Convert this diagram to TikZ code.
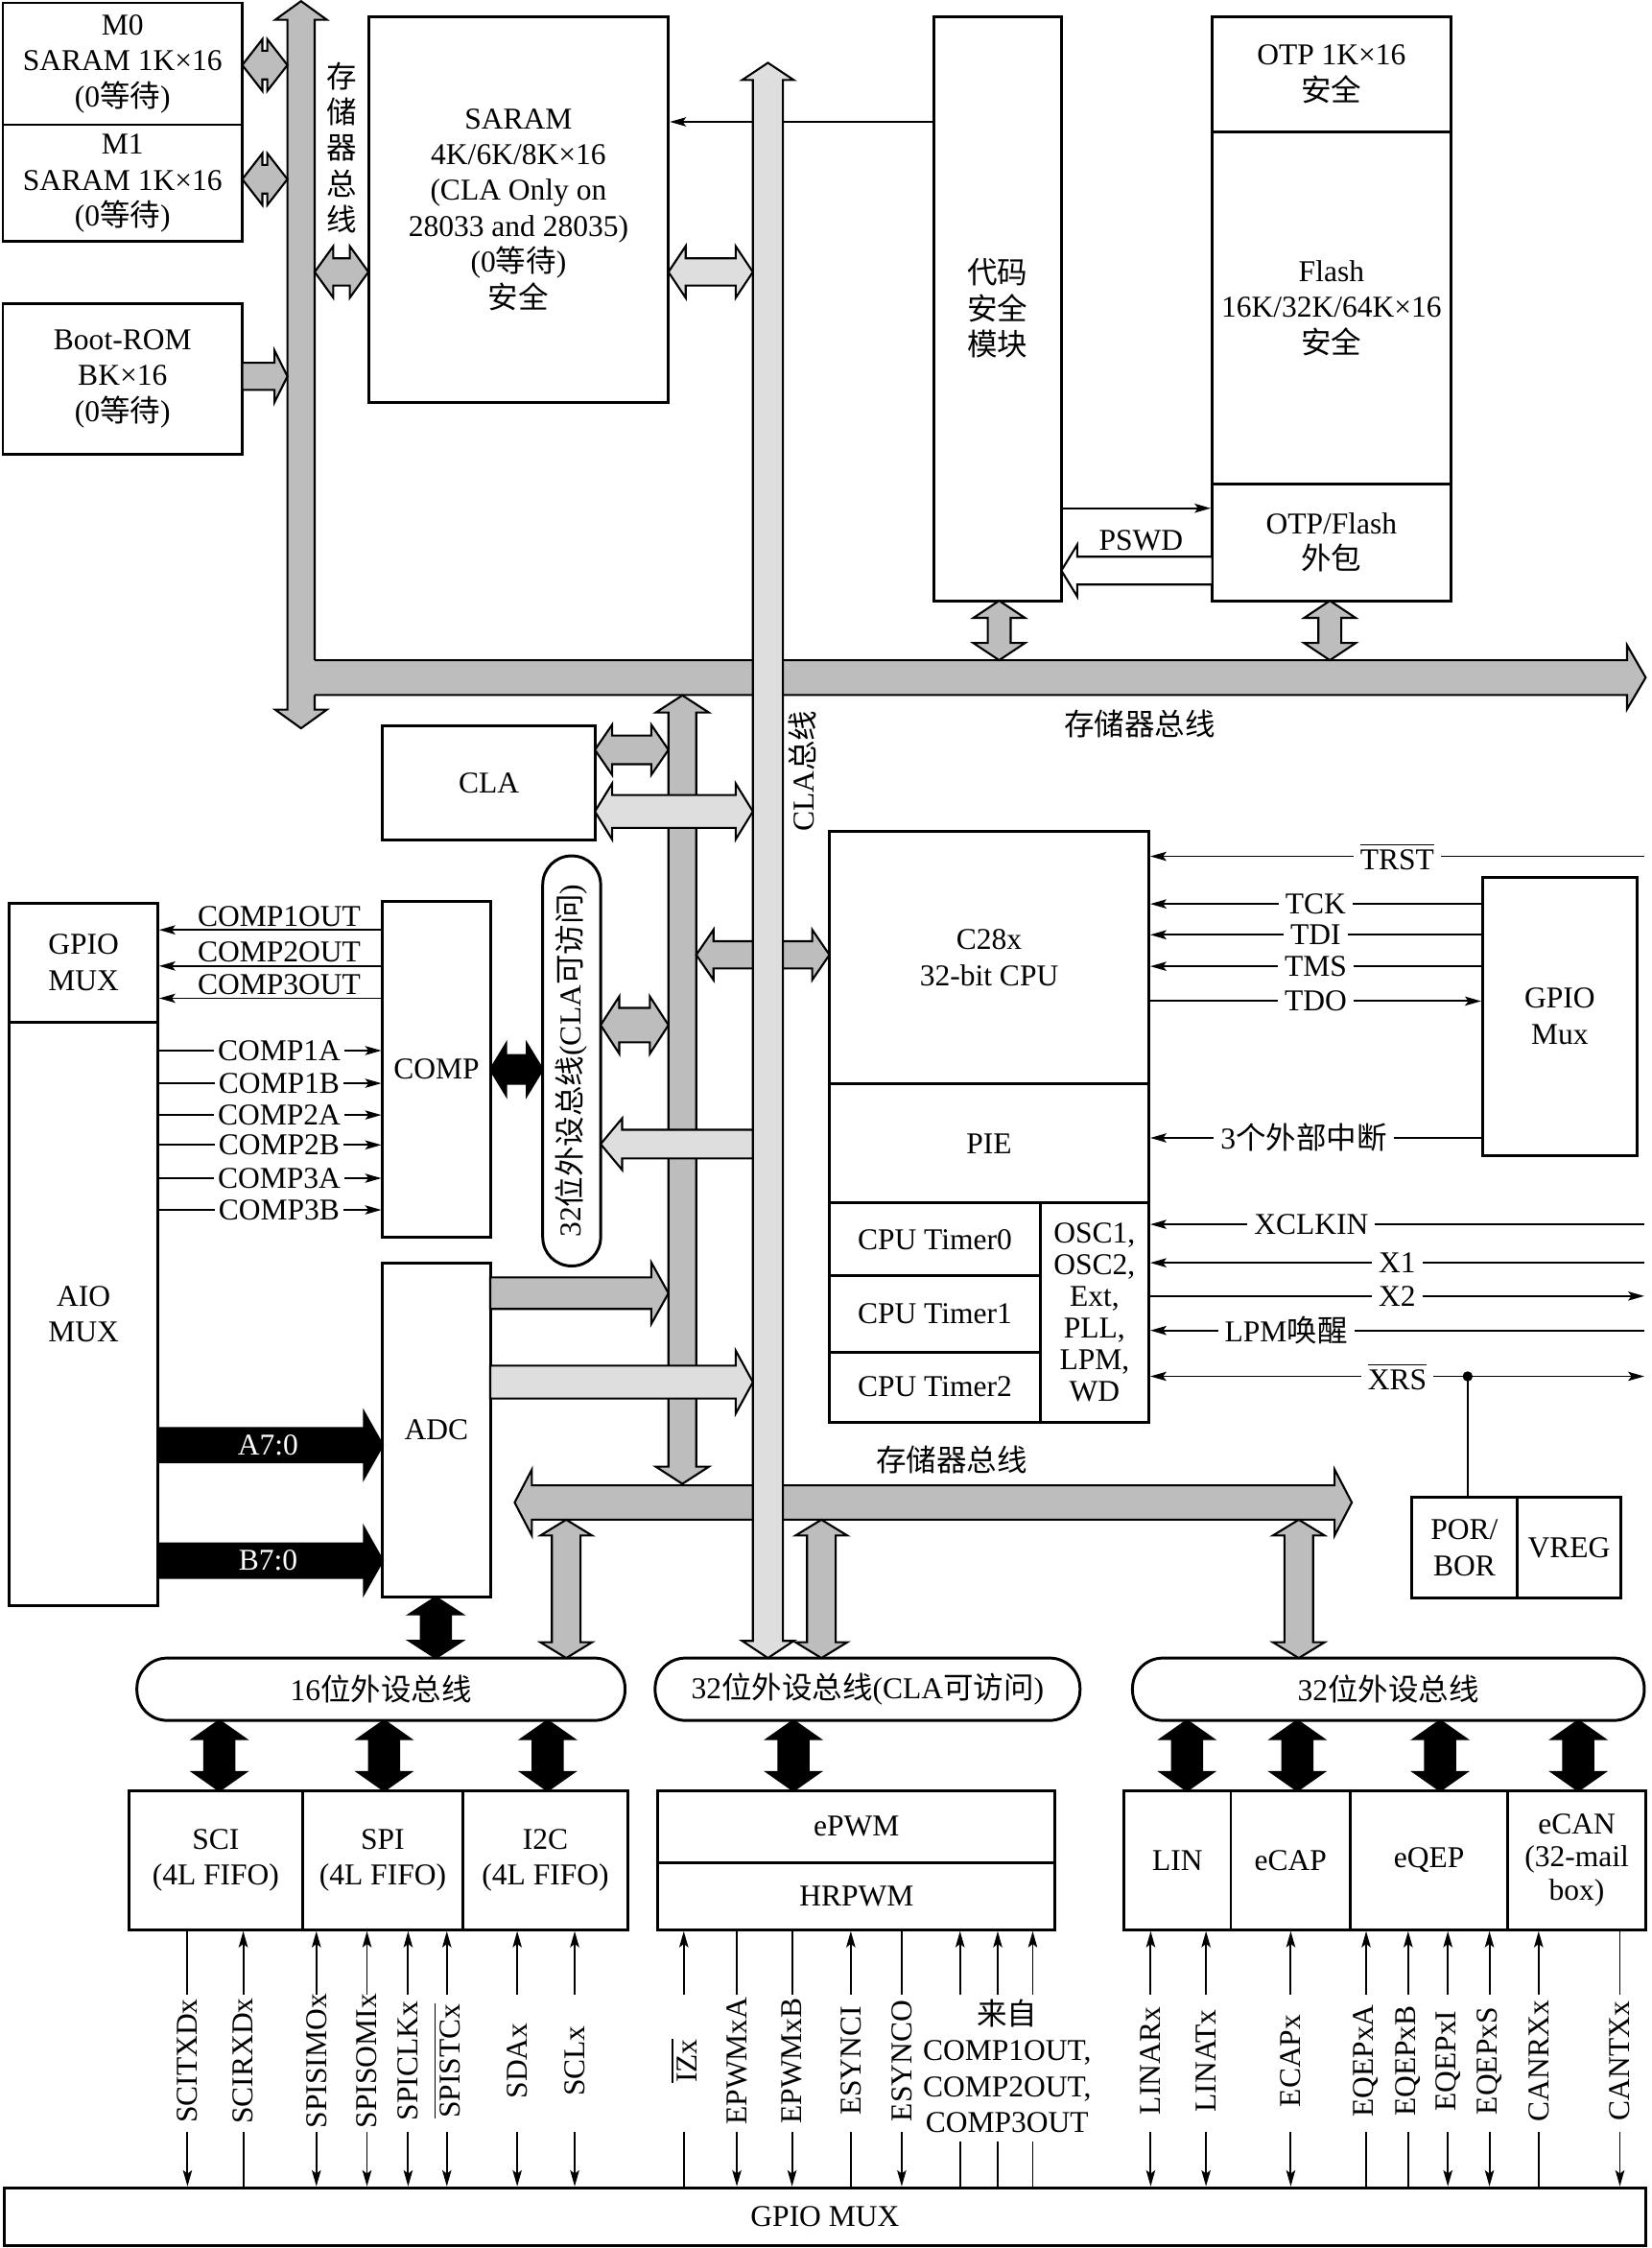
\documentclass[tikz,border=0pt]{standalone}
\usepackage{fontspec}
\setmainfont{Liberation Serif}
\newfontfamily\zhf{Noto Sans CJK SC}
\usetikzlibrary{arrows.meta,fit}
\definecolor{mg}{RGB}{189,189,189}
\definecolor{lg}{RGB}{222,222,222}
\newcommand\zh[1]{{\zhf #1}}
\newcommand\ovl[1]{$\overline{\hbox{#1}}$}
% box with centred text: text options, name, x1, y1, x2, y2, text
\newcommand\bx[7][]{\node[box,fit={(#3,#4)(#5,#6)}] (#2) {};
 \node[align=center,#1] (#2-t) at (#2.center) {#7};}
% pill with centred text: name, x1, y1, x2, y2, text
\newcommand\pl[6]{\node[pill,fit={(#2,#3)(#4,#5)}] (#1) {};
 \node (#1-t) at (#1.center) {#6};}
% double horizontal block arrow: style, x1, x2, y, shaft half, head half, head length
\newcommand\hdbl[7]{\draw[#1] (#2,#4) -- ({#2+#7},{#4-#6}) -- ({#2+#7},{#4-#5}) -- ({#3-#7},{#4-#5}) -- ({#3-#7},{#4-#6}) -- (#3,#4) -- ({#3-#7},{#4+#6}) -- ({#3-#7},{#4+#5}) -- ({#2+#7},{#4+#5}) -- ({#2+#7},{#4+#6}) -- cycle;}
% double vertical block arrow: style, y1, y2, x, shaft half, head half, head length
\newcommand\vdbl[7]{\draw[#1] (#4,#2) -- ({#4-#6},{#2+#7}) -- ({#4-#5},{#2+#7}) -- ({#4-#5},{#3-#7}) -- ({#4-#6},{#3-#7}) -- (#4,#3) -- ({#4+#6},{#3-#7}) -- ({#4+#5},{#3-#7}) -- ({#4+#5},{#2+#7}) -- ({#4+#6},{#2+#7}) -- cycle;}
% single horizontal block arrow: style, base x, tip x, y, shaft half, head half, signed head length
\newcommand\hone[7]{\draw[#1] (#2,{#4-#5}) -- ({#3-(#7)},{#4-#5}) -- ({#3-(#7)},{#4-#6}) -- (#3,#4) -- ({#3-(#7)},{#4+#6}) -- ({#3-(#7)},{#4+#5}) -- (#2,{#4+#5}) -- cycle;}
% pin line: name, x, box, label, upper arrow, lower arrow
\newcommand\pin[6]{\draw[sig,#5] (#2,1391) -- (#2,0 |- #3.south);
 \draw[sig,#6] (#2,1487) -- (#2,0 |- gpio.north);
 \node[rotate=90] (#1) at (#2,1437.5) {#4};}
\newcommand\pinx[4]{\draw[sig,#3] (#1,1391) -- (#1,0 |- #2.south);
 \draw[sig,#4] (#1,1494) -- (#1,0 |- gpio.north);}
\begin{document}
\begin{tikzpicture}[x=0.015cm,y=-0.015cm,
 font=\fontsize{9}{10.7}\selectfont,
 >={Stealth[length=4.8pt,width=2.7pt,inset=1pt]},
 box/.style={draw,line width=0.85pt,inner sep=0pt},
 pill/.style={box,rounded corners=9pt},
 sig/.style={line width=0.55pt},
 barM/.style={fill=mg,draw=black,line width=0.6pt},
 barL/.style={fill=lg,draw=black,line width=0.6pt},
 barK/.style={fill=black,draw=black,line width=0.6pt},
 barW/.style={fill=white,draw=black,line width=0.6pt},
 lbl/.style={fill=white,inner xsep=2pt,inner ysep=0.5pt}]
\useasboundingbox (0,0) rectangle (1152,1568);

% ---------- boxes ----------
\bx{m0}{2}{2}{169}{87}{M0\\SARAM 1K×16\\(0\zh{等待})}
\bx{m1}{2}{87}{169}{168.6}{M1\\SARAM 1K×16\\(0\zh{等待})}
\bx{boot}{2}{211.5}{169}{317}{Boot-ROM\\BK×16\\(0\zh{等待})}
\bx{saram}{257}{11.4}{466.3}{281}{SARAM\\4K/6K/8K×16\\(CLA Only on\\28033 and 28035)\\(0\zh{等待})\\\zh{安全}}
\bx{csm}{651.4}{11.4}{740.4}{419}{\zh{代码}\\\zh{安全}\\\zh{模块}}
\bx{otp}{845.6}{11.4}{1012}{92}{OTP 1K×16\\\zh{安全}}
\bx{flash}{845.6}{92}{1012}{337.5}{Flash\\16K/32K/64K×16\\\zh{安全}}
\bx{wrap}{845.6}{337.5}{1012}{419}{OTP/Flash\\\zh{外包}}
\bx{cla}{267}{506.5}{415}{586}{CLA}
\bx{gml}{6.6}{630}{110}{713}{GPIO\\MUX}
\bx{aio}{6.6}{713}{110}{1120}{AIO\\MUX}
\bx{comp}{267}{628.5}{342}{863}{COMP}
\bx{adc}{267}{880.8}{342}{1114}{ADC}
\node[pill,rounded corners=8.5pt,fit={(378.6,597)(419,883)}] (pillv) {};
\node[rotate=90] (pillvt) at (pillv.center) {32\zh{位外设总线}(CLA\zh{可访问})};
\bx{cpu}{578.6}{580}{801.4}{756}{C28x\\32-bit CPU}
\bx{pie}{578.6}{756}{801.4}{839}{PIE}
\bx{t0}{578.6}{839}{725.6}{890}{CPU Timer0}
\bx{t1}{578.6}{890}{725.6}{943}{CPU Timer1}
\bx{t2}{578.6}{943}{725.6}{992}{CPU Timer2}
\bx[font=\fontsize{9}{9.4}\selectfont]{osc}{725.6}{839}{801.4}{992}{OSC1,\\OSC2,\\Ext,\\PLL,\\LPM,\\WD}
\bx{gmr}{1034.2}{612}{1142}{806}{GPIO\\Mux}
\bx{por}{984.6}{1044.4}{1058.5}{1114.5}{POR/\\BOR}
\bx{vreg}{1058.5}{1044.4}{1130.4}{1114.5}{VREG}
\pl{p16}{95.5}{1156.5}{436}{1200}{16\zh{位外设总线}}
\pl{p32c}{457}{1156.5}{753.4}{1200}{32\zh{位外设总线}(CLA\zh{可访问})}
\pl{p32}{790}{1156.5}{1147}{1200}{32\zh{位外设总线}}
\bx{sci}{90}{1249}{211}{1346}{SCI\\(4L FIFO)}
\bx{spi}{211}{1249}{323}{1346}{SPI\\(4L FIFO)}
\bx{i2c}{323}{1249}{438}{1346}{I2C\\(4L FIFO)}
\bx{epwm}{459}{1249}{736}{1299}{ePWM}
\bx{hrpwm}{459}{1299}{736}{1346}{HRPWM}
\bx{lin}{784}{1249}{858.6}{1346}{LIN}
\bx{ecap}{858.6}{1249}{942}{1346}{eCAP}
\bx{eqep}{942}{1249}{1051.8}{1346}{eQEP}
\bx[font=\fontsize{9}{9.8}\selectfont]{ecan}{1051.8}{1249}{1148}{1346}{eCAN\\(32-mail\\box)}
\bx{gpio}{3}{1526}{1148}{1566}{GPIO MUX}

% ---------- thin line behind the CLA bus ----------
\draw[sig,->] (csm.west |- 0,85) -- (saram.east |- 0,85);

% ---------- memory buses ----------
\vdbl{barM}{0.8}{508}{210}{9.5}{18}{13}
\fill[mg] (205,460.5) -- (1135,460.5) -- (1135,450) -- (1148,472.6) -- (1135,494.6) -- (1135,484.8) -- (205,484.8) -- cycle;
\draw[line width=0.6pt] (219.5,460.5) -- (1135,460.5) -- (1135,450) -- (1148,472.6) -- (1135,494.6) -- (1135,484.8) -- (219.5,484.8);
\vdbl{barM}{485}{1035}{476}{9.7}{18.5}{12}

% medium gray arrows
\hdbl{barM}{169}{200.5}{45.4}{10}{18}{14}
\hdbl{barM}{169}{200.5}{125}{10}{18}{14}
\hone{barM}{169}{200.5}{262.5}{9.5}{18}{9}
\hdbl{barM}{219.5}{257}{189.7}{9.5}{18}{13}
\vdbl{barM}{419}{460.5}{697}{8}{18}{12}
\vdbl{barM}{419}{460.5}{927.7}{8}{18}{12}
\hdbl{barM}{415}{466.3}{523}{10}{17.5}{12}
\hdbl{barM}{485.7}{578.6}{666}{9.5}{17.5}{12}
\hdbl{barM}{419}{466.3}{715}{12}{20}{13}
\hone{barM}{342}{466.3}{902}{11}{21.5}{12}
\hdbl{barM}{359}{943}{1048}{12}{23}{12}
\vdbl{barM}{1060}{1156.5}{395}{10}{18}{11}
\vdbl{barM}{1060}{1156.5}{573}{10}{18}{11}
\vdbl{barM}{1060}{1156.5}{906}{10}{18}{11}

% light gray (CLA) bus and arrows
\vdbl{barL}{43.8}{1156.5}{535.7}{10.5}{18}{12}
\hdbl{barL}{466.3}{525.2}{189.7}{9.5}{18}{12}
\hdbl{barL}{415}{525.2}{566}{11.5}{19.5}{12}
\hone{barL}{525.2}{419}{798}{10}{18}{-15}
\hone{barL}{342}{525.2}{964}{11.5}{22}{12}

% black arrows
\hdbl{barK}{342}{378.6}{746}{10}{18}{11}
\hone{barK}{110}{267}{1008}{12}{23}{13}
\hone{barK}{110}{267}{1088.5}{12}{23}{13}
\vdbl{barK}{1114}{1156.5}{304}{10.5}{18.5}{12}
\foreach \xx in {153,268,382,553.5,828,905,1004.6,1101}{\vdbl{barK}{1200}{1249}{\xx}{10.5}{18.5}{13}}
\node[text=white] (la7) at (187,1008) {A7:0};
\node[text=white] (lb7) at (187,1088.5) {B7:0};

% PSWD hollow arrow
\hone{barW}{845.6}{740.4}{398}{9.7}{18}{-11}
\node (pswd) at (796,377) {PSWD};
\draw[sig,->] (csm.east |- 0,354.5) -- (wrap.west |- 0,354.5);

% bus labels
\node[align=center] (lmb1) at (238.5,103) {\zh{存}\\\zh{储}\\\zh{器}\\\zh{总}\\\zh{线}};
\node[rotate=90] (lclab) at (559.5,538) {CLA\zh{总线}};
\node (lmb2) at (795,505) {\zh{存储器总线}};
\node (lmb3) at (664,1018) {\zh{存储器总线}};

% COMP signals
\foreach \yy/\lab in {648.6/COMP1OUT, 673.8/COMP2OUT, 696.3/COMP3OUT}
 {\draw[sig,->] (comp.west |- 0,\yy) -- node[above,inner sep=0.8pt,pos=0.46]{\lab} (gml.east |- 0,\yy);}
\foreach \yy/\lab in {732.8/COMP1A, 755.6/COMP1B, 777.7/COMP2A, 798.6/COMP2B, 821.8/COMP3A, 843.9/COMP3B}
 {\draw[sig,->] (aio.east |- 0,\yy) -- node[fill=white,inner xsep=1.2pt,inner ysep=0pt,pos=0.54]{\lab} (comp.west |- 0,\yy);}

% JTAG / clock / reset signals
\coordinate (RE) at (1147,600);
\draw[sig,->] (RE |- 0,597.3) -- node[lbl]{\ovl{TRST}} (cpu.east |- 0,597.3);
\draw[sig,->] (gmr.west |- 0,630.5) -- node[lbl]{TCK} (cpu.east |- 0,630.5);
\draw[sig,->] (gmr.west |- 0,652) -- node[lbl]{TDI} (cpu.east |- 0,652);
\draw[sig,->] (gmr.west |- 0,674) -- node[lbl]{TMS} (cpu.east |- 0,674);
\draw[sig,->] (cpu.east |- 0,698.3) -- node[lbl]{TDO} (gmr.west |- 0,698.3);
\draw[sig,->] (gmr.west |- 0,793.7) -- node[lbl,pos=0.536]{3\zh{个外部中断}} (pie.east |- 0,793.7);
\draw[sig,->] (RE |- 0,854) -- node[lbl,pos=0.674]{XCLKIN} (osc.east |- 0,854);
\draw[sig,->] (RE |- 0,880.8) -- node[lbl]{X1} (osc.east |- 0,880.8);
\draw[sig,->] (osc.east |- 0,904) -- node[lbl]{X2} (RE |- 0,904);
\draw[sig,->] (RE |- 0,928) -- node[lbl,pos=0.725]{LPM\zh{唤醒}} (osc.east |- 0,928);
\draw[sig,<->] (osc.east |- 0,960) -- node[lbl]{\ovl{XRS}} (RE |- 0,960);
\coordinate (xdot) at (1023.8,960);
\fill (xdot) circle (1.5pt);
\draw[sig] (xdot) -- (xdot |- por.north);

% ---------- pins ----------
\pin{pa}{130.8}{sci}{SCITXDx}{-}{->}
\pin{pb}{169.7}{sci}{SCIRXDx}{->}{-}
\pin{pc}{220.7}{spi}{SPISIMOx}{->}{->}
\pin{pd}{256}{spi}{SPISOMIx}{->}{->}
\pin{pe}{284.7}{spi}{SPICLKx}{->}{->}
\pin{pf}{311.7}{spi}{\ovl{SPISTCx}}{->}{->}
\pin{pg}{360.8}{i2c}{SDAx}{->}{->}
\pin{ph}{400.9}{i2c}{SCLx}{->}{->}
\pin{pi}{477}{hrpwm}{\ovl{IZx}}{->}{-}
\pin{pj}{514}{hrpwm}{EPWMxA}{-}{->}
\pin{pk}{552.5}{hrpwm}{EPWMxB}{-}{->}
\pin{pl}{593.5}{hrpwm}{ESYNCI}{->}{-}
\pin{pm}{629}{hrpwm}{ESYNCO}{-}{->}
\pinx{669.7}{hrpwm}{->}{-}
\pinx{696}{hrpwm}{->}{-}
\pinx{720.4}{hrpwm}{->}{-}
\node[align=center] (cmpl) at (702.5,1441) {\zh{来自}\\COMP1OUT,\\COMP2OUT,\\COMP3OUT};
\pin{pq}{802.7}{lin}{LINARx}{->}{->}
\pin{pr}{841.3}{lin}{LINATx}{->}{->}
\pin{ps}{900.4}{ecap}{ECAPx}{->}{->}
\pin{pt}{953}{eqep}{EQEPxA}{->}{-}
\pin{pu}{982.3}{eqep}{EQEPxB}{->}{-}
\pin{pv}{1010}{eqep}{EQEPxI}{->}{->}
\pin{pw}{1039}{eqep}{EQEPxS}{->}{->}
\pin{px}{1073.3}{ecan}{CANRXx}{->}{-}
\pin{py}{1130}{ecan}{CANTXx}{-}{->}
\end{tikzpicture}
\end{document}
